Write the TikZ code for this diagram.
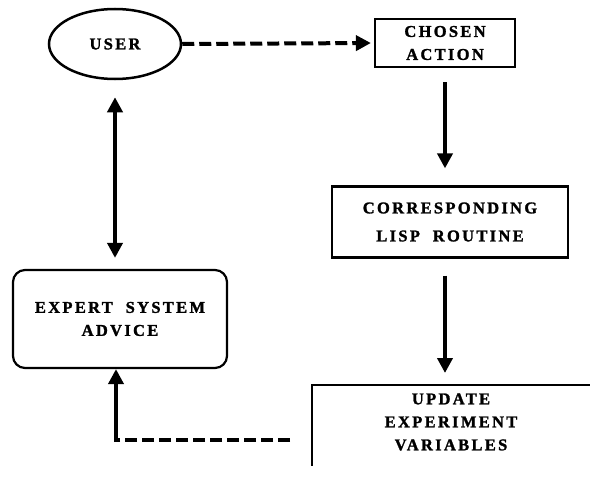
\documentclass[tikz,border=0pt]{standalone}
\usepackage{fontspec}
\setmainfont{Liberation Serif}
\usetikzlibrary{arrows.meta,shapes.geometric}

\begin{document}
\begin{tikzpicture}[x=1pt,y=-1pt,
    >={Triangle[length=15pt,width=15pt]},
    font=\fontsize{16.5}{23}\selectfont\bfseries\addfontfeature{LetterSpace=14,FakeBold=1.5},
    box/.style={draw,line width=2.2pt,align=center,inner sep=0pt},
    flow/.style={line width=4.5pt,->},
    dashflow/.style={line width=4pt,dash pattern=on 12pt off 5pt}]
  \useasboundingbox (0,0) rectangle (590,479);

  \node[box,ellipse,line width=2.5pt,minimum width=132pt,minimum height=70pt] (user) at (115,44) {USER};
  \node[box,minimum width=140pt,minimum height=48pt] (chosen) at (445,43) {CHOSEN\\ACTION};
  \node[box,minimum width=236pt,minimum height=71pt] (lisp) at (450,222) {CORRESPONDING\\[5pt]LISP\ \ ROUTINE};
  \node[box,rounded corners=12pt,minimum width=214pt,minimum height=98pt] (expert) at (120,319) {EXPERT\ \ SYSTEM\\ADVICE};
  \node[align=center,inner sep=0pt] (update) at (451,422) {UPDATE\\EXPERIMENT\\VARIABLES};

  % open frame of the update box
  \coordinate (updcorner) at (312,385);
  \draw[line width=2.2pt] (590,385) -- (updcorner) -- (312,466);

  \draw[dashflow,->,shorten >=3pt] (user.east) -- (chosen.west);
  \draw[flow,shorten <=14pt,shorten >=17pt] (chosen.south) -- (chosen.south |- lisp.north);
  \draw[flow,shorten <=17pt,shorten >=12pt] (chosen.south |- lisp.south) -- (chosen.south |- updcorner);
  \draw[flow,<->,shorten <=17pt,shorten >=11pt] (user.south) -- (user.south |- expert.north);

  % feedback
  \coordinate (fbcorner) at (116,440);
  \draw[dashflow] ([xshift=-22pt]updcorner |- fbcorner) -- ([xshift=2pt]fbcorner);
  \draw[flow,shorten <=-2pt] (fbcorner) -- (fbcorner |- expert.south);
\end{tikzpicture}
\end{document}
